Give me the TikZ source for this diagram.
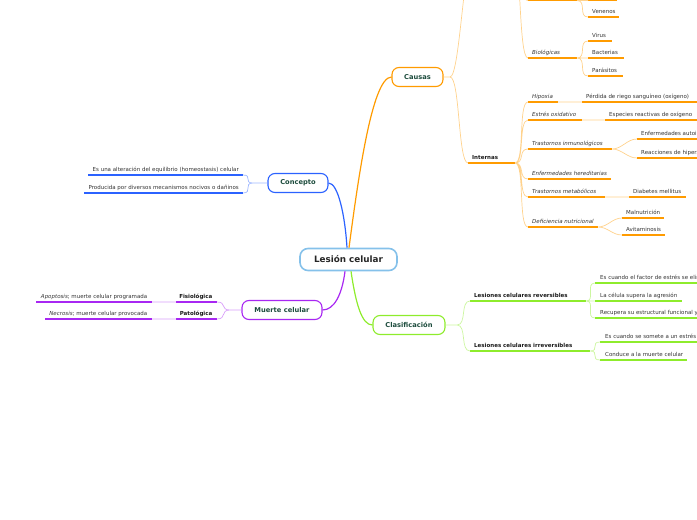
\documentclass[tikz,border=0pt]{standalone}
\usepackage{fontspec}
\setmainfont{DejaVu Sans}
\definecolor{azul}{HTML}{2B62FF}
\definecolor{naranja}{HTML}{FF9B00}
\definecolor{verde}{HTML}{8EEC2C}
\definecolor{morado}{HTML}{A827F2}
\definecolor{celeste}{HTML}{85C1EA}
\definecolor{verdeosc}{HTML}{1E4D3E}
\definecolor{gris}{HTML}{333333}

\begin{document}
\begin{tikzpicture}[x=1pt, y=-1pt,
  centro/.style={draw=celeste, line width=1.6pt, fill=white, rounded corners=8pt, minimum width=97pt, minimum height=22pt, font=\fontsize{8.8}{10}\selectfont\bfseries, text=black!85},
  tema/.style={draw=#1, line width=1.1pt, fill=white, rounded corners=7pt, minimum height=19pt, font=\fontsize{6.7}{8}\selectfont\bfseries, text=verdeosc},
  hoja/.style={anchor=base west, inner sep=0pt, font=\fontsize{5.5}{6.5}\selectfont, text=gris},
  hojai/.style={hoja, anchor=base east},
  negrita/.style={font=\fontsize{5.5}{6.5}\selectfont\bfseries, text=black!90},
  linea/.style={draw=#1, line width=1.3pt},
  rama/.style={draw=#1, line width=1.2pt},
  enlace/.style={draw=#1!45, line width=0.7pt, out=0, in=180, distance=10pt},
  enlacei/.style={enlace=#1, out=180, in=0}]
\useasboundingbox (0,0) rectangle (697,520);
\clip (0,0) rectangle (697,520);

\node[centro] (lesion) at (348.5,259.5) {Lesión celular};
\node[tema=azul, minimum width=60pt] (concepto) at (298,183) {Concepto};
\node[tema=naranja, minimum width=51pt] (causas) at (417.5,77) {Causas};
\node[tema=verde, minimum width=72pt] (clasif) at (409,325) {Clasificación};
\node[tema=morado, minimum width=80pt] (muerte) at (282,310) {Muerte celular};

\draw[rama=azul] ([xshift=-1.5pt]lesion.north) .. controls (345,215) and (338,183) .. (concepto.east);
\draw[rama=naranja] ([xshift=0.5pt]lesion.north) .. controls (358,180) and (372,77) .. (causas.west);
\draw[rama=morado] ([xshift=-3.5pt]lesion.south) .. controls (342,295) and (334,310) .. (muerte.east);
\draw[rama=verde] ([xshift=2.5pt]lesion.south) .. controls (356,305) and (362,325) .. (clasif.west);

% Concepto
\draw[linea=azul] (88,175) coordinate (alt-a) -- (243,175) coordinate (alt-b);
\node[hojai] (alt) at (239,171.3) {Es una alteración del equilibrio (homeostasis) celular};
\draw[linea=azul] (84,193) coordinate (pro-a) -- (243,193) coordinate (pro-b);
\node[hojai] (pro) at (239,189.3) {Producida por diversos mecanismos nocivos o dañinos};
\coordinate (concepto-j) at (253,183);
\draw[enlacei=azul] (concepto.west) -- (concepto-j) to (alt-b) (concepto-j) to (pro-b);

% Muerte celular
\draw[linea=morado] (176,302) coordinate (fis-a) -- (217,302) coordinate (fis-b);
\node[hojai, negrita] (fis) at (212.5,298.3) {Fisiológica};
\draw[linea=morado] (176,319) coordinate (pat-a) -- (217,319) coordinate (pat-b);
\node[hojai, negrita] (pat) at (212.5,315.3) {Patológica};
\draw[linea=morado] (36,302) coordinate (apo-a) -- (152,302) coordinate (apo-b);
\node[hojai] (apo) at (147.5,298.3) {\textit{Apoptosis}; muerte celular programada};
\draw[linea=morado] (45,319) coordinate (nec-a) -- (152,319) coordinate (nec-b);
\node[hojai] (nec) at (147.5,315.3) {\textit{Necrosis}; muerte celular provocada};
\coordinate (muerte-j) at (230,310);
\draw[enlacei=morado] (muerte.west) -- (muerte-j) to (fis-b) (muerte-j) to (pat-b) (fis-a) to (apo-b) (pat-a) to (nec-b);

% Causas
\coordinate (ext-a) at (474,-50);
\coordinate (ext-b) at (512,-50);
\draw[linea=naranja] (528,0.5) coordinate (qui-a) -- (577,0.5) coordinate (qui-b);
\draw[linea=naranja] (588,0.5) coordinate (qui1-a) -- (617,0.5) coordinate (qui1-b);
\draw[linea=naranja] (588,17) coordinate (ven-a) -- (619,17) coordinate (ven-b);
\node[hoja] (ven) at (592,13.3) {Venenos};
\draw[linea=naranja] (528,58) coordinate (bio-a) -- (577,58) coordinate (bio-b);
\node[hoja] (bio) at (532,54.3) {\textit{Biológicas}};
\draw[linea=naranja] (588,41) coordinate (vir-a) -- (612,41) coordinate (vir-b);
\node[hoja] (vir) at (592,37.3) {Virus};
\draw[linea=naranja] (588,58) coordinate (bac-a) -- (624,58) coordinate (bac-b);
\node[hoja] (bac) at (592,54.3) {Bacterias};
\draw[linea=naranja] (588,76) coordinate (par-a) -- (623,76) coordinate (par-b);
\node[hoja] (par) at (592,72.3) {Parásitos};

\draw[linea=naranja] (468,163) coordinate (int-a) -- (515,163) coordinate (int-b);
\node[hoja, negrita] (int) at (472,159.3) {Internas};
\draw[linea=naranja] (528,102) coordinate (hip-a) -- (558,102) coordinate (hip-b);
\node[hoja] (hip) at (532,98.3) {\textit{Hipoxia}};
\draw[linea=naranja] (582,102) coordinate (per-a) -- (697,102) coordinate (per-b);
\node[hoja] (per) at (586,98.3) {Pérdida de riego sanguíneo (oxígeno)};
\draw[linea=naranja] (528,120) coordinate (est-a) -- (582,120) coordinate (est-b);
\node[hoja] (est) at (532,116.3) {\textit{Estrés oxidativo}};
\draw[linea=naranja] (605,120) coordinate (esp-a) -- (697,120) coordinate (esp-b);
\node[hoja] (esp) at (609,116.3) {Especies reactivas de oxígeno};
\draw[linea=naranja] (528,149) coordinate (tin-a) -- (612,149) coordinate (tin-b);
\node[hoja] (tin) at (532,145.3) {\textit{Trastornos inmunológicos}};
\draw[linea=naranja] (637,139) coordinate (aut-a) -- (697,139) coordinate (aut-b);
\node[hoja] (aut) at (641,135.3) {Enfermedades autoinmunes};
\draw[linea=naranja] (637,158) coordinate (hsn-a) -- (697,158) coordinate (hsn-b);
\node[hoja] (hsn) at (641,154.3) {Reacciones de hipersensibilidad};
\draw[linea=naranja] (528,179) coordinate (her-a) -- (611,179) coordinate (her-b);
\node[hoja] (her) at (532,175.3) {\textit{Enfermedades hereditarias}};
\draw[linea=naranja] (528,197) coordinate (tme-a) -- (605,197) coordinate (tme-b);
\node[hoja] (tme) at (532,193.3) {\textit{Trastornos metabólicos}};
\draw[linea=naranja] (629,197) coordinate (dia-a) -- (686,197) coordinate (dia-b);
\node[hoja] (dia) at (633,193.3) {Diabetes mellitus};
\draw[linea=naranja] (528,227) coordinate (def-a) -- (598,227) coordinate (def-b);
\node[hoja] (def) at (532,223.3) {\textit{Deficiencia nutricional}};
\draw[linea=naranja] (622,218) coordinate (mal-a) -- (664,218) coordinate (mal-b);
\node[hoja] (mal) at (626,214.3) {Malnutrición};
\draw[linea=naranja] (622,235) coordinate (avi-a) -- (665,235) coordinate (avi-b);
\node[hoja] (avi) at (626,231.3) {Avitaminosis};

\coordinate (causas-j) at (450,77);
\draw[enlace=naranja] (causas.east) -- (causas-j) to (ext-a) (causas-j) to (int-a);
\draw[enlace=naranja] (ext-b) to (qui-a) (ext-b) to (bio-a) (qui-b) to (qui1-a) (qui-b) to (ven-a)
  (bio-b) to (vir-a) (bio-b) to (bac-a) (bio-b) to (par-a);
\draw[enlace=naranja] (int-b) to (hip-a) (int-b) to (est-a) (int-b) to (tin-a) (int-b) to (her-a)
  (int-b) to (tme-a) (int-b) to (def-a) (hip-b) to (per-a) (est-b) to (esp-a) (tin-b) to (aut-a)
  (tin-b) to (hsn-a) (tme-b) to (dia-a) (def-b) to (mal-a) (def-b) to (avi-a);

% Clasificacion
\draw[linea=verde] (470,301) coordinate (rev-a) -- (586,301) coordinate (rev-b);
\node[hoja, negrita] (rev) at (474,297.3) {Lesiones celulares reversibles};
\draw[linea=verde] (470,351) coordinate (irr-a) -- (590,351) coordinate (irr-b);
\node[hoja, negrita] (irr) at (474,347.3) {Lesiones celulares irreversibles};
\draw[linea=verde] (595,283) coordinate (eli-a) -- (697,283) coordinate (eli-b);
\node[hoja] (eli) at (600,279.3) {Es cuando el factor de estrés se elimina};
\draw[linea=verde] (595,301) coordinate (sup-a) -- (682,301) coordinate (sup-b);
\node[hoja] (sup) at (600,297.3) {La célula supera la agresión};
\draw[linea=verde] (595,318) coordinate (rec-a) -- (697,318) coordinate (rec-b);
\node[hoja] (rec) at (600,314.3) {Recupera su estructural funcional y};
\draw[linea=verde] (600,342) coordinate (som-a) -- (697,342) coordinate (som-b);
\node[hoja] (som) at (605,338.3) {Es cuando se somete a un estrés};
\draw[linea=verde] (600,360) coordinate (con-a) -- (687,360) coordinate (con-b);
\node[hoja] (con) at (605,356.3) {Conduce a la muerte celular};
\coordinate (clasif-j) at (457,325);
\draw[enlace=verde] (clasif.east) -- (clasif-j) to (rev-a) (clasif-j) to (irr-a)
  (rev-b) to (eli-a) (rev-b) to (sup-a) (rev-b) to (rec-a) (irr-b) to (som-a) (irr-b) to (con-a);
\end{tikzpicture}
\end{document}
